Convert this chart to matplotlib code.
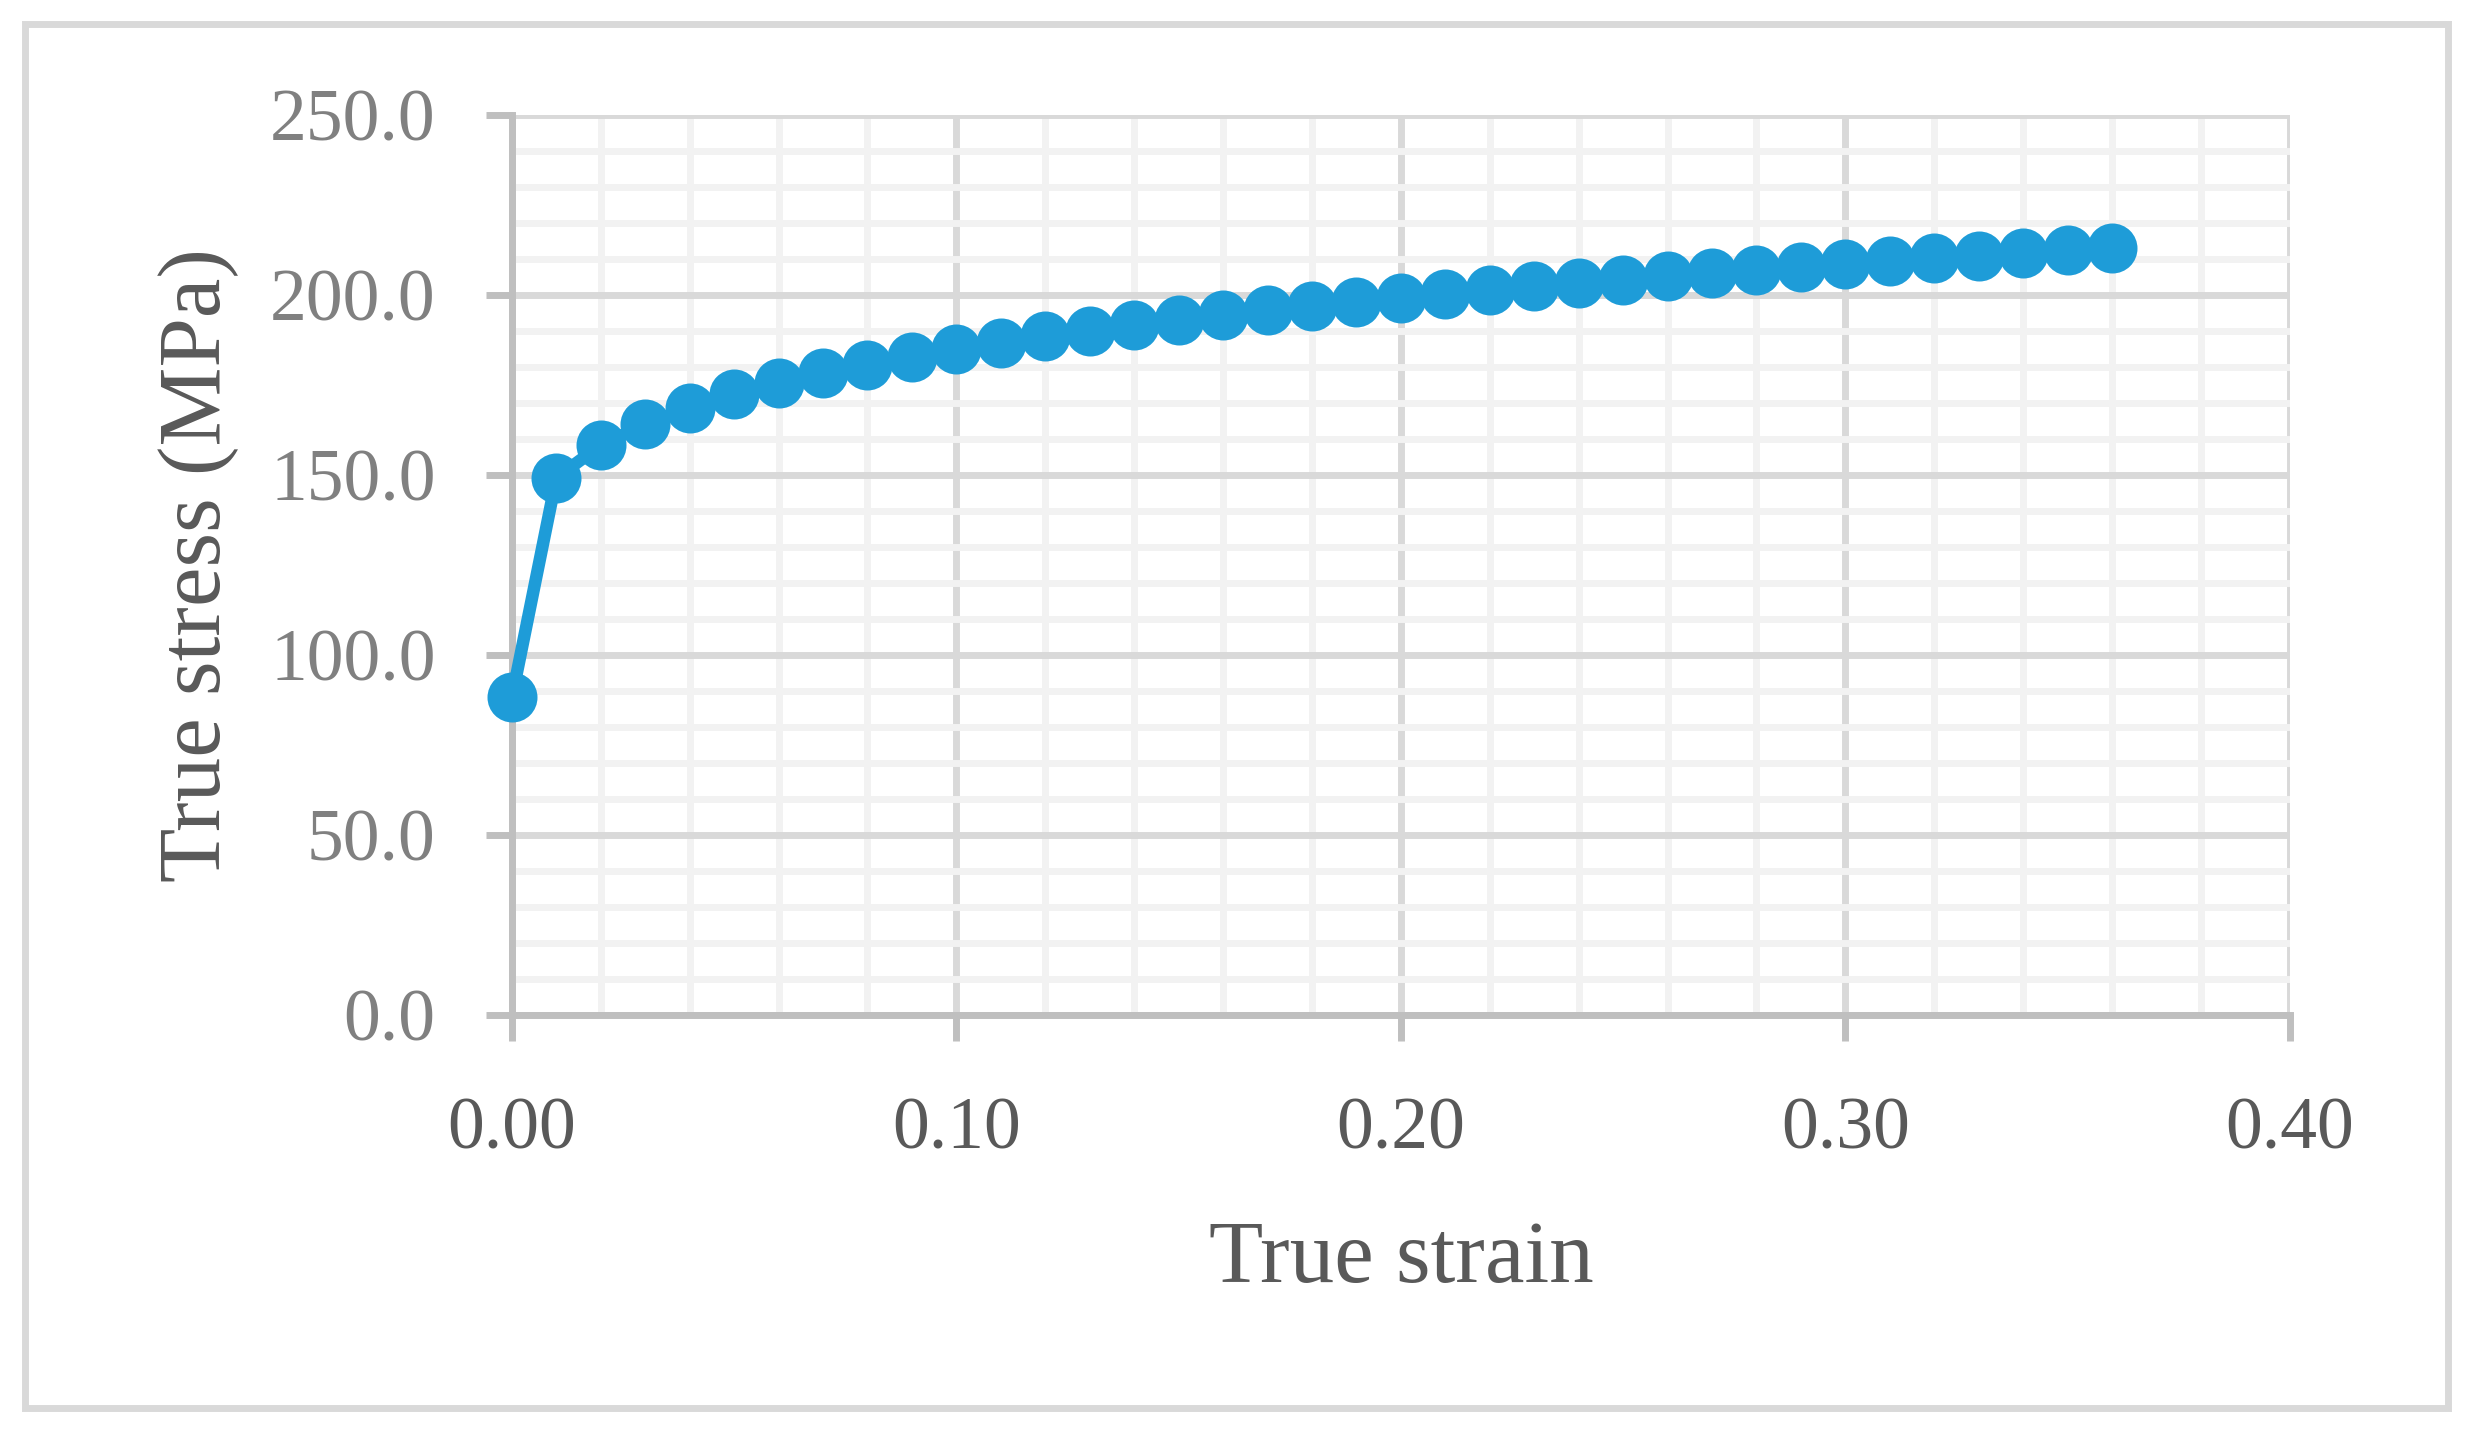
import numpy as np
import matplotlib
matplotlib.use("Agg")
import matplotlib.pyplot as plt
from matplotlib.patches import Rectangle
from matplotlib.ticker import MultipleLocator, FormatStrFormatter

plt.rcParams['font.family'] = ['Liberation Serif', 'DejaVu Serif']

# true strain / true stress (MPa)
strain = [0.00, 0.01, 0.02, 0.03, 0.04, 0.05, 0.06, 0.07, 0.08, 0.09,
          0.10, 0.11, 0.12, 0.13, 0.14, 0.15, 0.16, 0.17, 0.18, 0.19,
          0.20, 0.21, 0.22, 0.23, 0.24, 0.25, 0.26, 0.27, 0.28, 0.29,
          0.30, 0.31, 0.32, 0.33, 0.34, 0.35, 0.36]
stress = [88.2, 149.2, 158.3, 164.1, 168.5, 172.4, 175.5, 178.2, 180.6, 182.9,
          185.0, 186.7, 188.5, 190.1, 191.6, 193.1, 194.4, 195.7, 196.9, 198.1,
          199.2, 200.3, 201.4, 202.4, 203.3, 204.3, 205.2, 206.1, 206.9, 207.8,
          208.6, 209.4, 210.2, 210.8, 211.8, 212.4, 213.1]

blue = '#1E9CD8'
major_grid = '#D9D9D9'
minor_grid = '#F2F2F2'
axis_col = '#BFBFBF'

fig = plt.figure(figsize=(24.67, 14.34), dpi=100)
ax = fig.add_axes([0.2075, 0.2922, 0.7207, 0.6276])

ax.plot(strain, stress, color=blue, linewidth=9, marker='o',
        markersize=36, markeredgewidth=0, markerfacecolor=blue,
        solid_capstyle='round', zorder=3, clip_on=False)

ax.set_xlim(0, 0.40)
ax.set_ylim(0, 250)
ax.xaxis.set_major_locator(MultipleLocator(0.10))
ax.xaxis.set_minor_locator(MultipleLocator(0.02))
ax.yaxis.set_major_locator(MultipleLocator(50))
ax.yaxis.set_minor_locator(MultipleLocator(10))
ax.xaxis.set_major_formatter(FormatStrFormatter('%.2f'))
ax.yaxis.set_major_formatter(FormatStrFormatter('%.1f'))

# gridlines
ax.grid(which='minor', color=minor_grid, linewidth=5, zorder=0)
ax.grid(which='major', color=major_grid, linewidth=5, zorder=0)
ax.set_axisbelow(True)

for s in ['top', 'right']:
    ax.spines[s].set_visible(False)
for s in ['left', 'bottom']:
    ax.spines[s].set_color(axis_col)
    ax.spines[s].set_linewidth(5)

ax.tick_params(which='minor', length=0)
ax.tick_params(axis='x', which='major', length=19, width=5, color=axis_col,
               direction='out', labelsize=53, labelcolor='#595959', pad=40)
ax.tick_params(axis='y', which='major', length=19, width=5, color=axis_col,
               direction='out', labelsize=53, labelcolor='#808080', pad=36)

ax.set_xlabel('True strain', fontsize=64, color='#595959', labelpad=40)
ax.set_ylabel('True stress (MPa)', fontsize=64, color='#595959', labelpad=22)

# chart area border
fig.patches.append(Rectangle((25 / 2467, 1 - 1408 / 1434), (2448 - 25) / 2467,
                             (1408 - 24) / 1434, transform=fig.transFigure,
                             fill=False, edgecolor=major_grid, linewidth=5))

fig.savefig('out.png', dpi=100, facecolor='white')
